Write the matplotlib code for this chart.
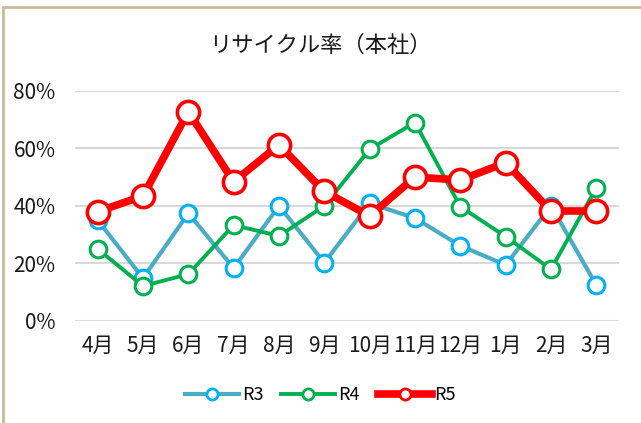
import matplotlib.pyplot as plt
from matplotlib.patches import Rectangle
from matplotlib.ticker import PercentFormatter

months = ['4月', '5月', '6月', '7月', '8月', '9月', '10月', '11月', '12月', '1月', '2月', '3月']
r3 = [35.0, 14.8, 37.4, 18.3, 40.0, 20.2, 40.9, 35.7, 26.1, 19.4, 40.0, 12.4]
r4 = [25.0, 12.1, 16.2, 33.3, 29.5, 40.0, 59.7, 69.0, 39.7, 29.3, 17.9, 46.3]
r5 = [38.0, 43.4, 72.8, 48.4, 61.2, 45.0, 36.5, 50.0, 49.0, 55.0, 38.2, 38.2]

plt.rcParams['font.family'] = ['Noto Sans CJK JP', 'DejaVu Sans']

fig = plt.figure(figsize=(6.41, 4.23), dpi=100)
ax = fig.add_axes([0.117, 0.2418, 0.8487, 0.5432])

x = range(len(months))
# R3: steel-blue line, bright blue marker ring
ax.plot(x, r3, color='#4BACC6', lw=3.0, marker='o', ms=12, mfc='white',
        mec='#00B0F0', mew=2.2, label='R3', clip_on=False, zorder=3)
ax.plot(x, r4, color='#00B050', lw=2.8, marker='o', ms=12, mfc='white',
        mec='#00B050', mew=2.2, label='R4', clip_on=False, zorder=4)
ax.plot(x, r5, color='#FF0000', lw=5.5, marker='o', ms=16, mfc='white',
        mec='#FF0000', mew=2.6, label='R5', clip_on=False, zorder=5)

ax.set_xlim(-0.5, 11.5)
ax.set_ylim(0, 80)
ax.set_yticks([0, 20, 40, 60, 80])
ax.yaxis.set_major_formatter(PercentFormatter(decimals=0))
ax.set_xticks(list(x))
ax.set_xticklabels(months)
ax.tick_params(length=0, labelsize=15, colors='#1a1a1a')
ax.tick_params(axis='y', pad=14)
ax.tick_params(axis='x', pad=10)
ax.grid(axis='y', color='#D9D9D9', lw=1.5)
ax.set_axisbelow(True)
for s in ax.spines.values():
    s.set_visible(False)

fig.text(0.5, 1 - 45 / 423, 'リサイクル率（本社）', ha='center', va='center',
         fontsize=16, color='#1a1a1a')

leg = ax.legend(loc='center', bbox_to_anchor=(0.5, 1 - 395 / 423),
                bbox_transform=fig.transFigure, ncol=3, frameon=False,
                fontsize=13, handlelength=3.0, columnspacing=1.0,
                handletextpad=0.15)
for h in leg.legend_handles:
    h.set_markersize(8)
    h.set_markeredgewidth(2.0)

# khaki frame around the chart (cut off at right/bottom)
fig.patches.append(Rectangle((3 / 641, -0.1), 1.2, 1 - 7 / 423 + 0.1,
                             transform=fig.transFigure, fill=False,
                             ec='#C4BD97', lw=2))

fig.savefig('out.png', dpi=100)
